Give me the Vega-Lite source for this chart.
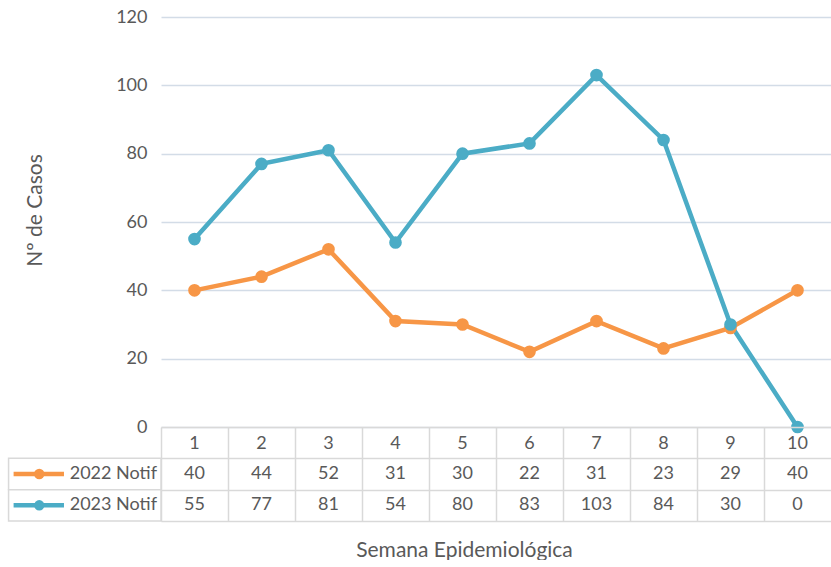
{
  "$schema": "https://vega.github.io/schema/vega-lite/v6.json",
  "padding": {"left": 7, "top": 8, "right": 0, "bottom": 0},
  "background": "white",
  "config": {"font": "Lato", "view": {"stroke": null}, "axis": {"labelFont": "Lato", "titleFont": "Lato"}},
  "datasets": {
    "casos": [
      {"semana": 1, "serie": "2022 Notif", "casos": 40},
      {"semana": 2, "serie": "2022 Notif", "casos": 44},
      {"semana": 3, "serie": "2022 Notif", "casos": 52},
      {"semana": 4, "serie": "2022 Notif", "casos": 31},
      {"semana": 5, "serie": "2022 Notif", "casos": 30},
      {"semana": 6, "serie": "2022 Notif", "casos": 22},
      {"semana": 7, "serie": "2022 Notif", "casos": 31},
      {"semana": 8, "serie": "2022 Notif", "casos": 23},
      {"semana": 9, "serie": "2022 Notif", "casos": 29},
      {"semana": 10, "serie": "2022 Notif", "casos": 40},
      {"semana": 1, "serie": "2023 Notif", "casos": 55},
      {"semana": 2, "serie": "2023 Notif", "casos": 77},
      {"semana": 3, "serie": "2023 Notif", "casos": 81},
      {"semana": 4, "serie": "2023 Notif", "casos": 54},
      {"semana": 5, "serie": "2023 Notif", "casos": 80},
      {"semana": 6, "serie": "2023 Notif", "casos": 83},
      {"semana": 7, "serie": "2023 Notif", "casos": 103},
      {"semana": 8, "serie": "2023 Notif", "casos": 84},
      {"semana": 9, "serie": "2023 Notif", "casos": 30},
      {"semana": 10, "serie": "2023 Notif", "casos": 0}
    ]
  },
  "spacing": 0,
  "bounds": "flush",
  "resolve": {"scale": {"x": "independent", "y": "independent"}},
  "vconcat": [
    {
      "width": 670,
      "height": 410,
      "data": {"name": "casos"},
      "encoding": {
        "x": {"field": "semana", "type": "quantitative", "scale": {"domain": [0.5, 10.5], "nice": false, "zero": false}, "axis": null},
        "y": {"field": "casos", "type": "quantitative", "scale": {"domain": [0, 120], "nice": false},
          "axis": {"values": [0, 20, 40, 60, 80, 100, 120], "title": "Nº de Casos", "domain": false, "ticks": false,
            "labelPadding": 14, "labelFontSize": 18, "labelColor": "#595959", "gridColor": "#d3dce7", "gridWidth": 1.5,
            "titleFontSize": 21, "titleFontWeight": "normal", "titleColor": "#595959", "titlePadding": 70, "titleY": 193}},
        "color": {"field": "serie", "type": "nominal", "scale": {"domain": ["2022 Notif", "2023 Notif"], "range": ["#f79646", "#4bacc6"]}, "legend": null}
      },
      "layer": [
        {"mark": {"type": "line", "strokeWidth": 4.5}},
        {"mark": {"type": "point", "filled": true, "size": 160, "opacity": 1}}
      ]
    },
    {
      "width": 670,
      "height": 94,
      "data": {"name": "casos"},
      "layer": [
        {
          "transform": [{"filter": "datum.semana == 1"}],
          "mark": {"type": "rect", "fill": "white", "stroke": "#d9d9d9", "strokeWidth": 1.5},
          "encoding": {
            "x": {"datum": -1.775, "type": "quantitative", "scale": {"domain": [0.5, 10.5], "nice": false, "zero": false},
              "axis": {"title": "Semana Epidemiológica", "values": [0.5, 1.5, 2.5, 3.5, 4.5, 5.5, 6.5, 7.5, 8.5, 9.5],
                "labels": false, "ticks": false, "domain": false, "grid": true, "gridColor": "#d9d9d9", "gridWidth": 1.5,
                "titleFontSize": 21, "titleFontWeight": "normal", "titleColor": "#595959", "titlePadding": 18, "titleX": 303, "titleAlign": "center"}},
            "x2": {"datum": 0.5},
            "y": {"field": "serie", "type": "nominal", "scale": {"domain": ["Semana", "2022 Notif", "2023 Notif"], "paddingInner": 0, "paddingOuter": 0},
              "axis": {"title": null, "labels": false, "ticks": false, "domain": false, "grid": true, "tickBand": "extent", "gridColor": "#d9d9d9", "gridWidth": 1.5}}
          }
        },
        {
          "transform": [{"filter": "datum.serie == '2022 Notif'"}],
          "mark": {"type": "text", "fontSize": 18, "color": "#595959", "dy": 1},
          "encoding": {
            "x": {"field": "semana", "type": "quantitative"},
            "y": {"datum": "Semana", "type": "nominal"},
            "text": {"field": "semana", "type": "quantitative"}
          }
        },
        {
          "mark": {"type": "text", "fontSize": 18, "color": "#595959"},
          "encoding": {
            "x": {"field": "semana", "type": "quantitative"},
            "y": {"field": "serie", "type": "nominal"},
            "text": {"field": "casos", "type": "quantitative"}
          }
        },
        {
          "transform": [{"filter": "datum.semana == 1"}],
          "mark": {"type": "rule", "strokeWidth": 4.5},
          "encoding": {
            "x": {"datum": -1.70, "type": "quantitative"},
            "x2": {"datum": -0.948},
            "y": {"field": "serie", "type": "nominal"},
            "color": {"field": "serie", "type": "nominal", "legend": null}
          }
        },
        {
          "transform": [{"filter": "datum.semana == 1"}],
          "mark": {"type": "point", "filled": true, "size": 110, "opacity": 1},
          "encoding": {
            "x": {"datum": -1.317, "type": "quantitative"},
            "y": {"field": "serie", "type": "nominal"},
            "color": {"field": "serie", "type": "nominal", "legend": null}
          }
        },
        {
          "transform": [{"filter": "datum.semana == 1"}],
          "mark": {"type": "text", "fontSize": 18, "color": "#595959", "align": "right"},
          "encoding": {
            "x": {"datum": 0.44, "type": "quantitative"},
            "y": {"field": "serie", "type": "nominal"},
            "text": {"field": "serie", "type": "nominal"}
          }
        }
      ]
    }
  ]
}
